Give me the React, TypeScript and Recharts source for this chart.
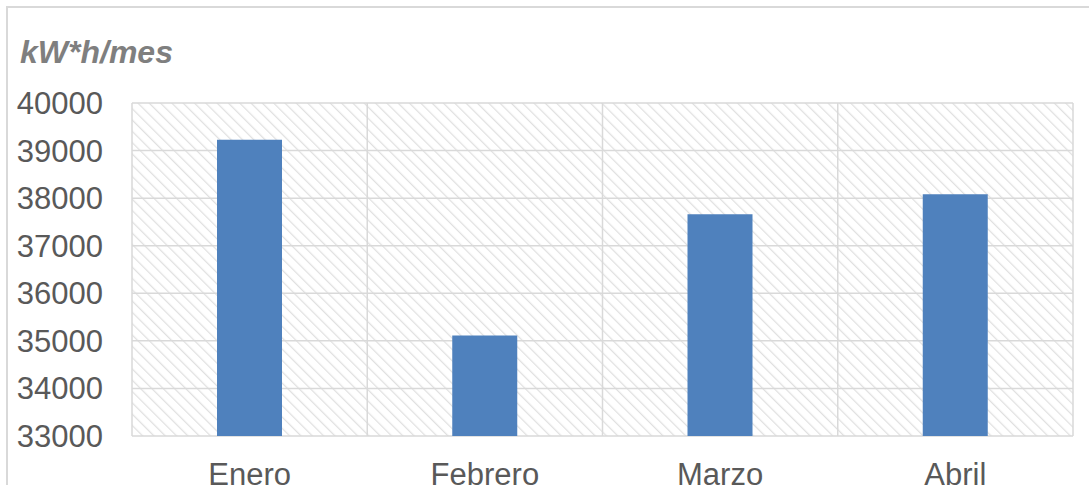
import { BarChart, Bar, XAxis, YAxis, CartesianGrid } from 'recharts'

// monthly consumption
const months = ['Enero', 'Febrero', 'Marzo', 'Abril']
const consumo = [39230, 35110, 37660, 38080]
const yTicks = [33000, 34000, 35000, 36000, 37000, 38000, 39000, 40000]

const data = months.map((m, i) => ({ mes: m, kwh: consumo[i] }))

const FONT = '"Liberation Sans", Arial, sans-serif'
const GRID = '#d9d9d9'

export default function App() {
  return (
    <div style={{ position: 'absolute', left: 0, top: 0, width: 1089, height: 485, overflow: 'hidden', background: '#fff' }}>
      {/* chart frame, cut off on the right/bottom like the source */}
      <div style={{ position: 'absolute', left: 6, top: 6, width: 1200, height: 600, border: `2px solid ${GRID}` }} />
      <div style={{
        position: 'absolute', left: 20, top: 33, fontFamily: FONT, fontSize: 32,
        fontWeight: 700, fontStyle: 'italic', color: '#7f7f7f', lineHeight: '38px',
      }}>
        kW*h/mes
      </div>
      <BarChart
        width={1089}
        height={485}
        data={data}
        margin={{ top: 103, right: 16, bottom: 0, left: 0 }}
        style={{ position: 'absolute', left: 0, top: 0 }}
      >
        <defs>
          <pattern id="hatch" patternUnits="userSpaceOnUse" width="8" height="8" patternTransform="rotate(-45)">
            <rect width="8" height="8" fill="#ffffff" />
            <line x1="0" y1="0" x2="0" y2="8" stroke="#e0e0e0" strokeWidth="2.5" />
          </pattern>
        </defs>
        <CartesianGrid
          fill="url(#hatch)"
          stroke={GRID}
          strokeWidth={1.5}
          verticalCoordinatesGenerator={({ offset }: any) =>
            [0, 1, 2, 3, 4].map(i => offset.left + (i * offset.width) / 4)
          }
        />
        <XAxis
          dataKey="mes"
          height={49}
          axisLine={false}
          tickLine={false}
          tickSize={0}
          tickMargin={27}
          tick={{ fill: '#595959', fontSize: 31, fontFamily: FONT }}
        />
        <YAxis
          width={132}
          domain={[33000, 40000]}
          ticks={yTicks}
          axisLine={false}
          tickLine={false}
          tickSize={0}
          tickMargin={29}
          tick={{ fill: '#595959', fontSize: 31, fontFamily: FONT }}
        />
        <Bar dataKey="kwh" fill="#4f81bd" barSize={65} isAnimationActive={false} />
      </BarChart>
    </div>
  )
}
